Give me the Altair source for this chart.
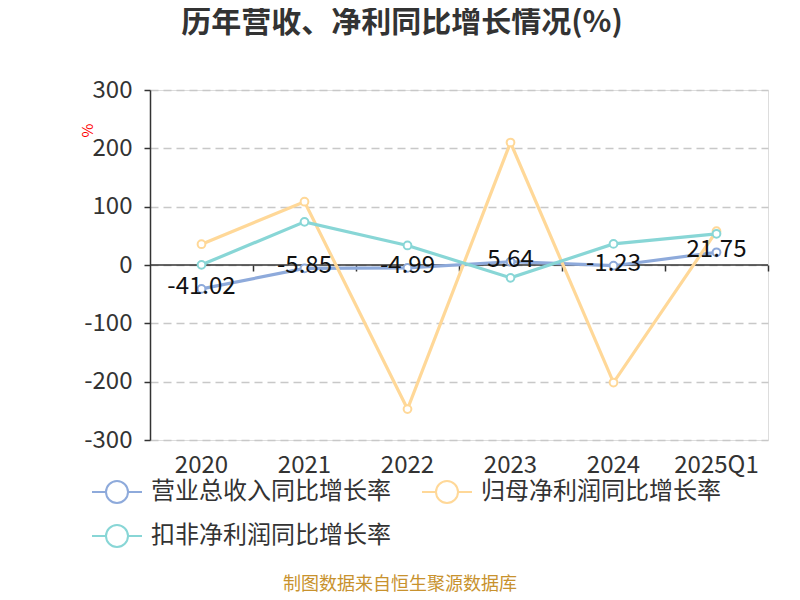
import altair as alt
import pandas as pd

# ---- data ----
years = ["2020", "2021", "2022", "2023", "2024", "2025Q1"]
series_names = ["营业总收入同比增长率", "归母净利润同比增长率", "扣非净利润同比增长率"]
revenue = [-41.02, -5.85, -4.99, 5.64, -1.23, 21.75]
net_profit = [35.6, 108.5, -247.0, 210.0, -201.5, 58.0]
deducted = [0.3, 74.0, 33.5, -22.0, 36.2, 53.5]
y_ticks = [-300, -200, -100, 0, 100, 200, 300]
colors = ["#8eaadb", "#ffd898", "#88d6d6"]
title_text = "历年营收、净利同比增长情况(%)"
source_text = "制图数据来自恒生聚源数据库"

FONT = "Noto Sans CJK SC"

rows = []
for name, vals in zip(series_names, [revenue, net_profit, deducted]):
    for yr, v in zip(years, vals):
        rows.append({"year": yr, "series": name, "value": v})
df = pd.DataFrame(rows)
rev_df = pd.DataFrame({"year": years, "value": revenue,
                       "label": [f"{v:.2f}" for v in revenue]})

x_scale = alt.Scale(type="band", domain=years, paddingInner=0, paddingOuter=0)
y_scale = alt.Scale(domain=[-300, 300], nice=False, zero=False)
color_scale = alt.Scale(domain=series_names, range=colors)

y_axis = alt.Axis(values=y_ticks, grid=True, gridDash=[8, 5],
                  gridColor="#c8c8c8", gridWidth=1.5,
                  domain=True, domainColor="#333", domainWidth=1.5,
                  ticks=True, tickColor="#333", tickWidth=1.5, tickSize=6,
                  labelExpr="datum.value + ''",
                  labelFontSize=24, labelFont=FONT, labelColor="#333",
                  labelPadding=12,
                  title="%", titleColor="red", titleFontSize=15,
                  titleFont=FONT, titleFontWeight="normal",
                  titleX=-63, titleY=40, titleAlign="center",
                  titleBaseline="middle")

LEGEND_PATH = ("M-2.5,0L-1.1,0M1.1,0L2.5,0"
               "M-1.1,0A1.1,1.1,0,1,1,1.1,0A1.1,1.1,0,1,1,-1.1,0Z")

zero_rule = alt.Chart(pd.DataFrame({"value": [0]})).mark_rule(
    color="#333", strokeWidth=1.5
).encode(y=alt.Y("value:Q", scale=y_scale, axis=y_axis))

lines = alt.Chart(df).mark_line(strokeWidth=3.2).encode(
    x=alt.X("year:N", scale=x_scale, sort=years,
            axis=alt.Axis(orient="bottom", title=None, domain=False, ticks=False,
                          grid=False, labelPadding=13, labelFontSize=24,
                          labelColor="#333", labelFont=FONT, labelAngle=0)),
    y=alt.Y("value:Q", scale=y_scale, axis=y_axis),
    color=alt.Color("series:N", scale=color_scale, sort=series_names,
                    legend=alt.Legend(orient="none", legendX=-45, legendY=390,
                                      direction="horizontal",
                                      columns=2, title=None, padding=0,
                                      symbolType=LEGEND_PATH, symbolSize=400,
                                      symbolStrokeWidth=2,
                                      symbolFillColor="white",
                                      labelFont=FONT, labelFontSize=24,
                                      labelColor="#333", labelOffset=22,
                                      labelLimit=0,
                                      columnPadding=27, rowPadding=14)),
)

points = alt.Chart(df).mark_point(
    shape="circle", filled=True, fill="white", fillOpacity=1, opacity=1,
    size=60, strokeWidth=2
).encode(
    x=alt.X("year:N", scale=x_scale, sort=years,
            axis=alt.Axis(orient="bottom", offset=-175, labels=False, domain=False,
                          grid=False, ticks=True, tickSize=6, tickColor="#333",
                          tickWidth=1.5, bandPosition=1, title=None)),
    y=alt.Y("value:Q", scale=y_scale, axis=y_axis),
    stroke=alt.Stroke("series:N", scale=color_scale, legend=None),
)

labels = alt.Chart(rev_df).mark_text(
    font=FONT, fontSize=24, color="#111", baseline="middle", align="center", dy=-2
).encode(
    x=alt.X("year:N", scale=x_scale, sort=years, axis=None),
    y=alt.Y("value:Q", scale=y_scale, axis=y_axis),
    text="label:N",
)

title = alt.Chart(pd.DataFrame({"t": [title_text]})).mark_text(
    font=FONT, fontSize=30, fontWeight="bold", color="#333",
    align="center", baseline="middle"
).encode(x=alt.value(252), y=alt.value(-67), text="t:N")

source = alt.Chart(pd.DataFrame({"t": [source_text]})).mark_text(
    font=FONT, fontSize=18, color="#c8922e", align="center", baseline="middle"
).encode(x=alt.value(250), y=alt.value(495), text="t:N")

chart = alt.layer(zero_rule, lines, points, labels, title, source).resolve_axis(
    x="independent"
).properties(
    width=618, height=350,
    padding={"left": 142, "top": 82, "right": 20, "bottom": 154},
    autosize=alt.AutoSizeParams(type="none"),
).configure_view(stroke="transparent").configure(background="white")

chart.save("out.html", embed_options={"renderer": "svg", "actions": False})
